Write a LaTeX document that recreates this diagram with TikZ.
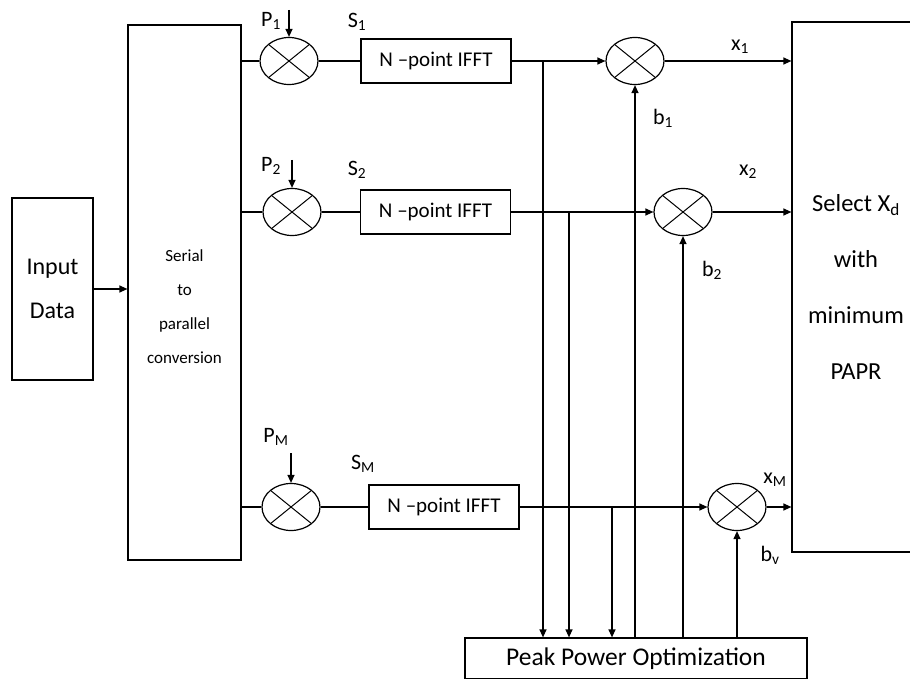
\documentclass[tikz,border=0pt]{standalone}
\usepackage{fontspec}
\setmainfont{Carlito}
\usetikzlibrary{arrows.meta,shapes.geometric,positioning,calc}

\begin{document}
\begin{tikzpicture}[x=1pt,y=-1pt,
    box/.style={draw, line width=1.2pt, inner sep=0pt},
    fft/.style={box, minimum width=150pt, minimum height=44pt, font=\fontsize{21}{25}\selectfont},
    mixer/.style={draw, ellipse, line width=1.2pt, minimum width=58pt, minimum height=47pt, inner sep=0pt,
        path picture={\draw[line width=1pt] (path picture bounding box.north west) -- (path picture bounding box.south east)
            (path picture bounding box.north east) -- (path picture bounding box.south west);}},
    lbl/.style={font=\fontsize{22}{26}\selectfont, inner sep=0pt},
    wire/.style={line width=1.2pt},
    arr/.style={wire, -{Triangle[length=8pt,width=7pt]}}
]
\useasboundingbox (0,0) rectangle (910,679);

% blocks
\node[box, minimum width=81pt, minimum height=182pt, align=center, font=\fontsize{24}{44}\selectfont] (input) at (52.5,289) {Input\\Data};
\node[box, minimum width=113pt, minimum height=535pt] (sp) at (184.5,292.5) {};
\node[font=\fontsize{17}{34}\selectfont, align=center] (sptxt) at (184.5,307) {Serial\\to\\parallel\\conversion};
\node[box, minimum width=128pt, minimum height=530pt, align=center, font=\fontsize{24.5}{56}\selectfont] (sel) at (856,287) {Select X\textsubscript{d}\\with\\minimum\\PAPR};
\node[box, minimum width=342pt, minimum height=41pt, font=\fontsize{25.5}{30}\selectfont] (ppo) at (636,658.5) {Peak Power Optimization};

% branches
\node[mixer] (m1) at (289,61) {};
\node[mixer] (m2) at (292,212) {};
\node[mixer] (mM) at (291,507) {};
\node[fft] (f1) at (436,61) {N –point IFFT};
\node[fft] (f2) at (435.5,212) {N –point IFFT};
\node[fft] (fM) at (444,507) {N –point IFFT};
\node[mixer] (pr1) at (635,61) {};
\node[mixer] (pr2) at (683,212) {};
\node[mixer] (prM) at (737,507) {};

\coordinate (p1) at (289,10);
\coordinate (p2) at (292,160);
\coordinate (pM) at (291,453);
\coordinate (t1) at (543,61);
\coordinate (t2) at (569,212);
\coordinate (tM) at (612,507);

% labels
\node[lbl] (lp1) at (271,21) {P\textsubscript{1}};
\node[lbl] (lp2) at (271,166) {P\textsubscript{2}};
\node[lbl] (lpM) at (276,437) {P\textsubscript{M}};
\node[lbl] (ls1) at (357,22) {S\textsubscript{1}};
\node[lbl] (ls2) at (357,170) {S\textsubscript{2}};
\node[lbl] (lsM) at (363,464) {S\textsubscript{M}};
\node[lbl] (lx1) at (740,47) {x\textsubscript{1}};
\node[lbl] (lx2) at (748,172) {x\textsubscript{2}};
\node[lbl] (lxM) at (775,480) {x\textsubscript{M}};
\node[lbl] (lb1) at (663,118) {b\textsubscript{1}};
\node[lbl] (lb2) at (712,270) {b\textsubscript{2}};
\node[lbl] (lbv) at (770,555) {b\textsubscript{v}};

% connectors
\draw[arr] (input.east) -- (input.east -| sp.west);
\draw[wire] (sp.east |- m1) -- (m1.west);
\draw[wire] (sp.east |- m2) -- (m2.west);
\draw[wire] (sp.east |- mM) -- (mM.west);
\draw[arr] (p1) -- (m1.north);
\draw[arr] (p2) -- (m2.north);
\draw[arr] (pM) -- (mM.north);
\draw[wire] (m1.east) -- (f1.west);
\draw[wire] (m2.east) -- (f2.west);
\draw[wire] (mM.east) -- (fM.west);
\draw[arr] (f1.east) -- (pr1.west);
\draw[arr] (f2.east) -- (pr2.west);
\draw[arr] (fM.east) -- (prM.west);
\draw[arr] (pr1.east) -- (pr1.east -| sel.west);
\draw[arr] (pr2.east) -- (pr2.east -| sel.west);
\draw[arr] (prM.east) -- (prM.east -| sel.west);
\draw[arr] (t1) -- (t1 |- ppo.north);
\draw[arr] (t2) -- (t2 |- ppo.north);
\draw[arr] (tM) -- (tM |- ppo.north);
\draw[arr] (ppo.north -| pr1) -- (pr1.south);
\draw[arr] (ppo.north -| pr2) -- (pr2.south);
\draw[arr] (ppo.north -| prM) -- (prM.south);
\end{tikzpicture}
\end{document}
